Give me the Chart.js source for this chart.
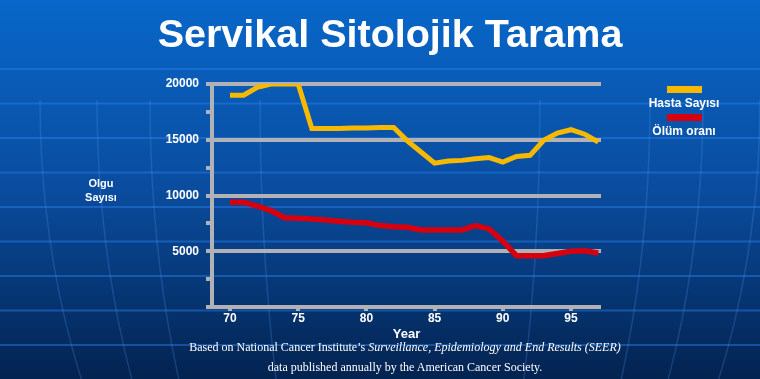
<!DOCTYPE html>
<html>
<head>
<meta charset="utf-8">
<script src="https://cdn.jsdelivr.net/npm/chart.js@4.4.1/dist/chart.umd.min.js"></script>
<style>
html, body { margin: 0; padding: 0; width: 760px; height: 379px; overflow: hidden; background: #0a4c9e; }
#wrap { position: relative; width: 760px; height: 379px; }
#chart { position: absolute; left: 0; top: 0; }
.txt { position: absolute; color: #fff; font-family: "Liberation Sans", Arial, sans-serif; font-weight: bold; white-space: nowrap; }
#title { left: 0; width: 780px; top: 14px; font-size: 39.5px; line-height: 39px; text-align: center; }
#ytitle { left: 61px; width: 80px; top: 176px; font-size: 11px; line-height: 14px; text-align: center; }
#legend { left: 634px; width: 100px; top: 86px; text-align: center; }
#legend .sw { width: 35px; height: 7px; margin: 0 auto; }
#legend .lb { font-size: 12px; line-height: 14px; margin: 3px 0 4px; }
#note { position: absolute; left: 0; width: 810px; top: 337px; color: #fff; font-family: "Liberation Serif", "Times New Roman", serif; font-size: 12px; line-height: 20px; text-align: center; white-space: nowrap; }
</style>
</head>
<body>
<div id="wrap">
  <canvas id="chart" width="760" height="379"></canvas>
  <div id="title" class="txt">Servikal Sitolojik Tarama</div>
  <div id="ytitle" class="txt">Olgu<br>Sayısı</div>
  <div id="legend" class="txt"></div>
  <div id="note">Based on National Cancer Institute’s <i>Surveillance, Epidemiology and End Results (SEER)</i><br>data published annually by the American Cancer Society.</div>
</div>
<script>
// Years (19xx) and the two series
const years = [70, 71, 72, 73, 74, 75, 76, 77, 78, 79, 80, 81, 82, 83,
               84, 85, 86, 87, 88, 89, 90, 91, 92, 93, 94, 95, 96, 97];
const hastaSayisi = [19000, 19000, 19700, 20000, 20000, 20000, 16000, 16000, 16000, 16050, 16050, 16100, 16100, 14900,
                     13900, 12900, 13100, 13150, 13300, 13400, 13000, 13500, 13600, 14950, 15600, 15900, 15500, 14800];
const olumOrani = [9400, 9400, 9050, 8650, 8000, 7950, 7900, 7800, 7700, 7600, 7550, 7300, 7200, 7150,
                   6900, 6900, 6900, 6900, 7300, 7000, 5900, 4600, 4600, 4600, 4800, 5000, 5050, 4850];
const yTickLabels = [5000, 10000, 15000, 20000];
const xTickLabels = [70, 75, 80, 85, 90, 95];

const gray = '#b2b2b6';

// Blue slide background with faint globe lines
const backdrop = {
    id: 'backdrop',
    beforeDraw(chart) {
        const c = chart.ctx;
        const w = chart.width, h = chart.height;
        c.save();
        const g = c.createLinearGradient(0, 0, 0, h);
        g.addColorStop(0, '#0867c9');
        g.addColorStop(0.5, '#0a4c9e');
        g.addColorStop(1, '#032350');
        c.fillStyle = g;
        c.fillRect(0, 0, w, h);
        c.strokeStyle = 'rgba(40, 130, 240, 0.45)';
        c.lineWidth = 2;
        for (let y = 69; y < h; y += 34.5) {
            c.beginPath();
            c.moveTo(0, y);
            c.lineTo(w, y);
            c.stroke();
        }
        c.strokeStyle = 'rgba(90, 160, 255, 0.22)';
        c.lineWidth = 1.5;
        [360, 303, 250, 140].forEach(rx => {
            c.beginPath();
            c.ellipse(400, 100, rx, 600, 0, 0, Math.PI);
            c.stroke();
        });
        c.restore();
    }
};

const ctx = document.getElementById('chart').getContext('2d');
const chart = new Chart(ctx, {
    type: 'line',
    data: {
        datasets: [{
            label: 'Hasta Sayısı',
            data: years.map((yr, i) => ({ x: yr, y: hastaSayisi[i] })),
            borderColor: '#f7b900',
            backgroundColor: '#f7b900',
            borderWidth: 5,
            pointRadius: 0,
            tension: 0
        }, {
            label: 'Ölüm oranı',
            data: years.map((yr, i) => ({ x: yr, y: olumOrani[i] })),
            borderColor: '#d6000f',
            backgroundColor: '#d6000f',
            borderWidth: 5.5,
            pointRadius: 0,
            tension: 0
        }]
    },
    options: {
        responsive: false,
        animation: false,
        events: [],
        layout: { padding: { top: 84, right: 159, bottom: 36.4, left: 0 } },
        plugins: {
            legend: { display: false },
            title: { display: false },
            tooltip: { enabled: false }
        },
        scales: {
            x: {
                type: 'linear',
                min: 68.68,
                max: 97.2,
                grid: { drawOnChartArea: false, drawTicks: true, tickLength: 4, tickColor: gray, lineWidth: 4 },
                border: { display: false },
                ticks: {
                    includeBounds: false,
                    stepSize: 5,
                    padding: 2,
                    color: '#fff',
                    font: { family: 'Liberation Sans', size: 12, weight: 'bold', lineHeight: 1 },
                    callback: v => xTickLabels.includes(v) ? String(v) : ''
                },
                title: {
                    display: true,
                    text: 'Year',
                    color: '#fff',
                    padding: { top: 0, bottom: 0 },
                    font: { family: 'Liberation Sans', size: 13, weight: 'bold' }
                }
            },
            y: {
                min: 0,
                max: 20000,
                afterFit: scale => { scale.width = 212; },
                grid: {
                    lineWidth: 4,
                    tickLength: 6,
                    tickColor: gray,
                    color: c => c.tick && c.tick.value % 5000 === 0 ? gray : 'rgba(0,0,0,0)'
                },
                border: { display: true, color: gray, width: 4 },
                ticks: {
                    stepSize: 2500,
                    autoSkip: false,
                    padding: 7,
                    color: '#fff',
                    font: { family: 'Liberation Sans', size: 12, weight: 'bold' },
                    callback: v => yTickLabels.includes(v) ? String(v) : ''
                }
            }
        }
    },
    plugins: [backdrop]
});

// Legend: swatch above each label
const legend = document.getElementById('legend');
chart.data.datasets.forEach(ds => {
    const sw = document.createElement('div');
    sw.className = 'sw';
    sw.style.background = ds.borderColor;
    const lb = document.createElement('div');
    lb.className = 'lb';
    lb.textContent = ds.label;
    legend.appendChild(sw);
    legend.appendChild(lb);
});
</script>
</body>
</html>
